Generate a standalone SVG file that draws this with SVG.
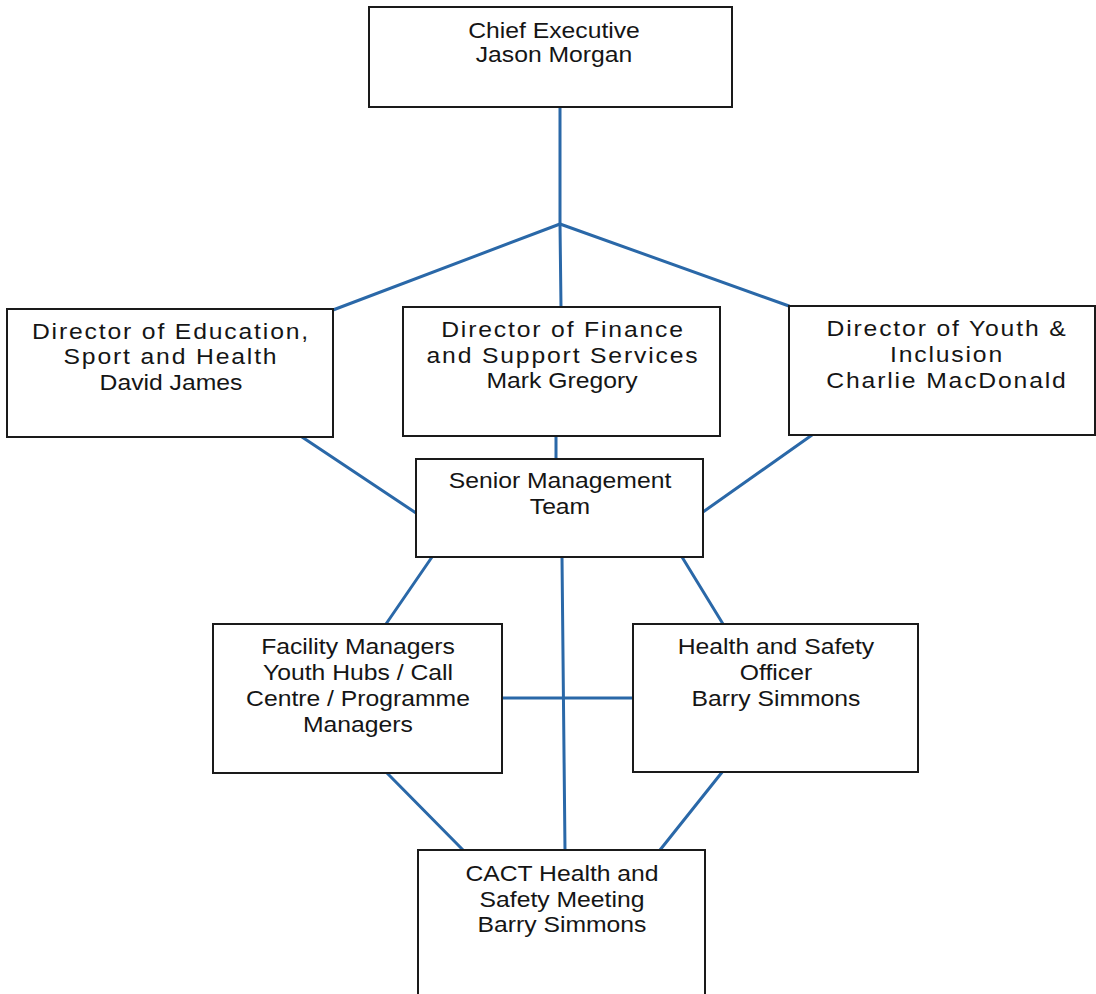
<svg xmlns="http://www.w3.org/2000/svg" width="1096" height="994" viewBox="0 0 1096 994">
<style>
.box{fill:#fff;stroke:#1a1a1a;stroke-width:2}
.t{font-family:"Liberation Sans",Arial,sans-serif;font-size:21.5px;fill:#151515;text-anchor:middle}
.w{letter-spacing:1.6px}
.c{stroke:#2a68a8;stroke-width:3;fill:none;stroke-linecap:round}
</style>
<rect width="1096" height="994" fill="#fff"/>
<g id="connectors">
<line class="c" x1="560" y1="107" x2="560" y2="224"/>
<line class="c" x1="560" y1="224" x2="333" y2="310"/>
<line class="c" x1="560" y1="224" x2="561" y2="307"/>
<line class="c" x1="560" y1="224" x2="789" y2="306"/>
<line class="c" x1="302" y1="437" x2="416" y2="513"/>
<line class="c" x1="556" y1="436" x2="556" y2="459"/>
<line class="c" x1="812" y1="435" x2="703" y2="512"/>
<line class="c" x1="432" y1="557" x2="386" y2="624"/>
<line class="c" x1="562" y1="557" x2="565" y2="850"/>
<line class="c" x1="682" y1="557" x2="723" y2="624"/>
<line class="c" x1="502" y1="698" x2="633" y2="698"/>
<line class="c" x1="387" y1="773" x2="463" y2="850"/>
<line class="c" x1="723" y1="771" x2="660" y2="850"/>
</g>
<g id="chief">
<rect class="box" x="369" y="7" width="363" height="100"/>
<text class="t" transform="translate(554 0) scale(1.15 1) translate(-554 0)"><tspan x="554" y="38">Chief Executive</tspan><tspan x="554" y="62">Jason Morgan</tspan></text>
</g>
<g id="dir-education">
<rect class="box" x="7" y="309" width="326" height="128"/>
<text class="t w" transform="translate(171 0) scale(1.15 1) translate(-171 0)"><tspan x="171" y="339">Director of Education,</tspan><tspan x="171" y="364">Sport and Health</tspan></text>
<text class="t" transform="translate(171 0) scale(1.15 1) translate(-171 0)"><tspan x="171" y="390">David James</tspan></text>
</g>
<g id="dir-finance">
<rect class="box" x="403" y="307" width="317" height="129"/>
<text class="t w" transform="translate(563 0) scale(1.15 1) translate(-563 0)"><tspan x="563" y="337">Director of Finance</tspan><tspan x="563" y="363">and Support Services</tspan></text>
<text class="t" transform="translate(562 0) scale(1.15 1) translate(-562 0)"><tspan x="562" y="388">Mark Gregory</tspan></text>
</g>
<g id="dir-youth">
<rect class="box" x="789" y="306" width="306" height="129"/>
<text class="t w" transform="translate(947 0) scale(1.15 1) translate(-947 0)"><tspan x="947" y="336">Director of Youth &amp;</tspan><tspan x="947" y="362">Inclusion</tspan><tspan x="947" y="388">Charlie MacDonald</tspan></text>
</g>
<g id="smt">
<rect class="box" x="416" y="459" width="287" height="98"/>
<text class="t" transform="translate(560 0) scale(1.15 1) translate(-560 0)"><tspan x="560" y="488">Senior Management</tspan><tspan x="560" y="514">Team</tspan></text>
</g>
<g id="facility">
<rect class="box" x="213" y="624" width="289" height="149"/>
<text class="t" transform="translate(358 0) scale(1.15 1) translate(-358 0)"><tspan x="358" y="654">Facility Managers</tspan><tspan x="358" y="680">Youth Hubs / Call</tspan><tspan x="358" y="706">Centre / Programme</tspan><tspan x="358" y="732">Managers</tspan></text>
</g>
<g id="hs-officer">
<rect class="box" x="633" y="624" width="285" height="148"/>
<text class="t" transform="translate(776 0) scale(1.15 1) translate(-776 0)"><tspan x="776" y="654">Health and Safety</tspan><tspan x="776" y="680">Officer</tspan><tspan x="776" y="706">Barry Simmons</tspan></text>
</g>
<g id="cact">
<rect class="box" x="418" y="850" width="287" height="160"/>
<text class="t" transform="translate(562 0) scale(1.15 1) translate(-562 0)"><tspan x="562" y="881">CACT Health and</tspan><tspan x="562" y="907">Safety Meeting</tspan><tspan x="562" y="932">Barry Simmons</tspan></text>
</g>
</svg>
